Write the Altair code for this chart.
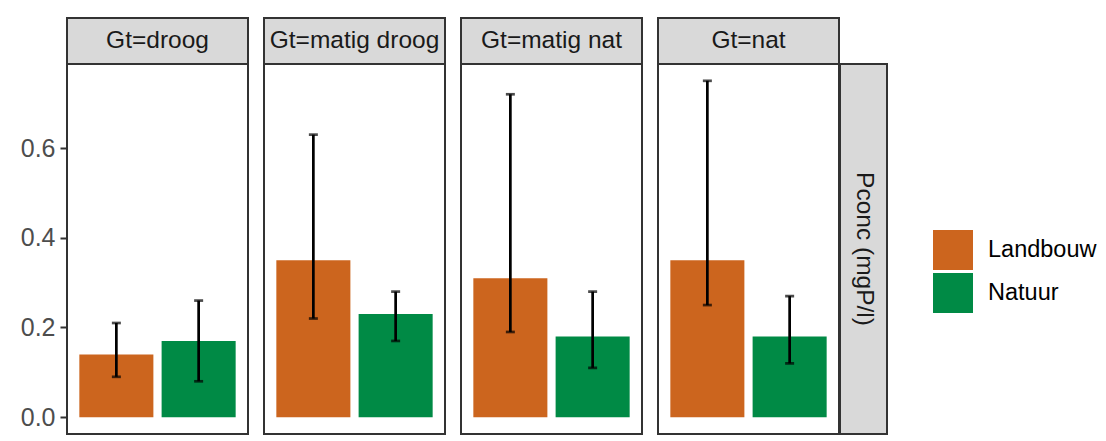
import altair as alt
import pandas as pd

# ---- data ----
gt_levels = ["Gt=droog", "Gt=matig droog", "Gt=matig nat", "Gt=nat"]
groups = ["Landbouw", "Natuur"]
mean_landbouw = [0.14, 0.35, 0.31, 0.35]
mean_natuur = [0.17, 0.23, 0.18, 0.18]
low_landbouw = [0.09, 0.22, 0.19, 0.25]
high_landbouw = [0.21, 0.63, 0.72, 0.75]
low_natuur = [0.08, 0.17, 0.11, 0.12]
high_natuur = [0.26, 0.28, 0.28, 0.27]
y_ticks = [0.0, 0.2, 0.4, 0.6]
row_label = "Pconc (mgP/l)"
colors = ["#CC651E", "#008A45"]

rows = []
for i, g in enumerate(gt_levels):
    rows.append({"Gt": g, "groep": "Landbouw", "mean": mean_landbouw[i],
                 "lo": low_landbouw[i], "hi": high_landbouw[i]})
    rows.append({"Gt": g, "groep": "Natuur", "mean": mean_natuur[i],
                 "lo": low_natuur[i], "hi": high_natuur[i]})
df = pd.DataFrame(rows)

FONT = "Liberation Sans"
PW, PH, SH, RW = 181, 370, 46, 47
FS_AXIS = 25
FS_STRIP = 24.5
FS_LEG = 23.5

xenc = alt.X("groep:N", scale=alt.Scale(domain=groups, paddingInner=0.1, paddingOuter=0.15), axis=None)
yscale = alt.Scale(domain=[-0.0375, 0.7875], nice=False, zero=False)
cscale = alt.Scale(domain=groups, range=colors)
legend = alt.Legend(title=None, orient="none", legendX=866, legendY=212, symbolType="square",
                    symbolSize=1600, symbolStrokeWidth=0, symbolOpacity=1, labelFontSize=FS_LEG,
                    labelFont=FONT, labelColor="#000000", labelOffset=15, rowPadding=3, padding=0)


def panel(g, first):
    base = alt.Chart(df).transform_filter(alt.datum.Gt == g)
    if first:
        yaxis = alt.Axis(values=y_ticks, format=".1f", labelFontSize=FS_AXIS, labelFont=FONT,
                         labelColor="#4D4D4D", tickColor="#333333", tickWidth=2, tickSize=7,
                         domain=False, grid=False, title=None, labelPadding=5)
    else:
        yaxis = None
    bars = base.mark_bar(opacity=1).encode(
        x=xenc,
        y=alt.Y("mean:Q", scale=yscale, axis=yaxis),
        y2=alt.datum(0),
        color=alt.Color("groep:N", scale=cscale, legend=legend),
    )
    rule = base.mark_rule(color="black", strokeWidth=2.7).encode(
        x=xenc, y=alt.Y("lo:Q", scale=yscale), y2="hi:Q")
    cap_hi = base.mark_tick(color="black", thickness=2.7, size=9, orient="horizontal").encode(
        x=xenc, y=alt.Y("hi:Q", scale=yscale))
    cap_lo = base.mark_tick(color="black", thickness=2.7, size=9, orient="horizontal").encode(
        x=xenc, y=alt.Y("lo:Q", scale=yscale))
    return alt.layer(bars, rule, cap_hi, cap_lo).properties(
        width=PW, height=PH,
        view=alt.ViewBackground(fill="white", stroke="#333333", strokeWidth=2))


def strip(label, w, h, angle=0):
    d = pd.DataFrame({"label": [label]})
    txt = alt.Chart(d).mark_text(fontSize=FS_STRIP, font=FONT, color="#1A1A1A", angle=angle,
                                 align="center", baseline="middle").encode(
        text="label:N", x=alt.value(w / 2), y=alt.value(h / 2))
    return txt.properties(width=w, height=h,
                          view=alt.ViewBackground(fill="#D9D9D9", stroke="#333333", strokeWidth=2))


cols = []
for i, g in enumerate(gt_levels):
    p = panel(g, i == 0)
    if i == len(gt_levels) - 1:
        p = alt.hconcat(p, strip(row_label, RW, PH, 90), spacing=1, bounds="flush")
    cols.append(alt.vconcat(strip(g, PW, SH), p, spacing=0, bounds="flush"))

chart = alt.hconcat(*cols, spacing=14).properties(
    padding={"left": 11, "top": 9, "right": 0, "bottom": 0},
    background="white",
).configure(font=FONT).configure_view(stroke=None)

chart.save("out.html", embed_options={"renderer": "svg", "actions": False})
